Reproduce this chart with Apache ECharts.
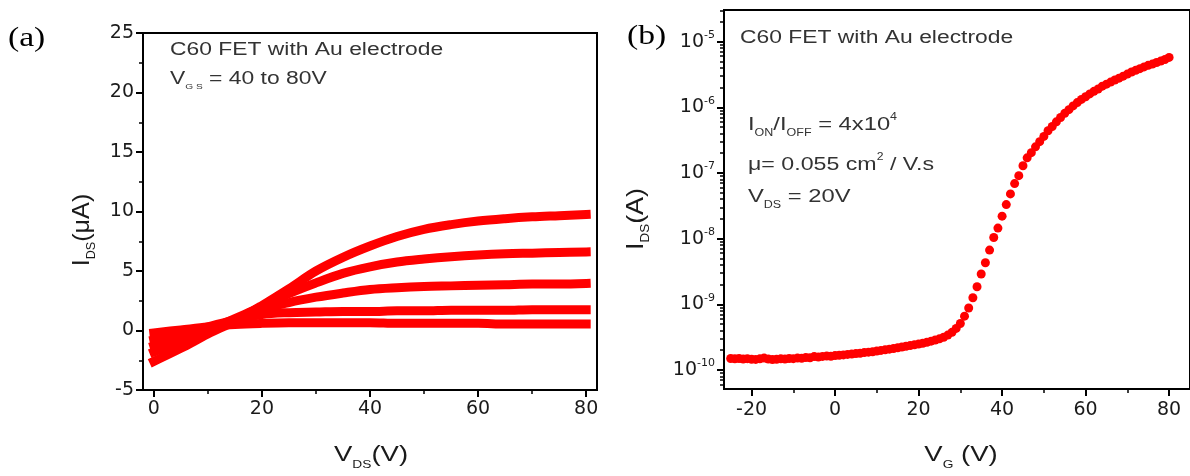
<!DOCTYPE html>
<html><head><meta charset="utf-8">
<script src="https://cdn.jsdelivr.net/npm/echarts@6/dist/echarts.min.js"></script>
<style>html,body{margin:0;padding:0;background:#fff}#c{width:1190px;height:476px}</style>
</head><body><div id="c"></div>
<script>
// ---- Panel (a): output curves, I_DS (uA) vs V_DS (V) ----
const vds = [0,5,10,15,20,25,30,35,40,45,50,55,60,65,70,75,80];
const ids_vg40 = [-0.2,0.05,0.3,0.5,0.6,0.65,0.65,0.65,0.65,0.6,0.6,0.6,0.6,0.55,0.55,0.55,0.55];
const ids_vg50 = [-0.8,-0.3,0.3,0.9,1.35,1.5,1.55,1.6,1.6,1.65,1.65,1.7,1.7,1.7,1.75,1.75,1.75];
const ids_vg60 = [-1.3,-0.6,0.1,0.8,1.75,2.35,2.8,3.15,3.45,3.6,3.7,3.75,3.8,3.85,3.9,3.9,3.95];
const ids_vg70 = [-1.8,-0.9,0.0,1.0,2.0,3.1,4.0,4.8,5.35,5.75,6.0,6.2,6.35,6.45,6.5,6.55,6.6];
const ids_vg80 = [-2.6,-1.5,-0.3,0.8,2.1,3.5,5.0,6.15,7.1,7.9,8.5,8.9,9.2,9.4,9.55,9.65,9.75];
const xTicksA = [0,20,40,60,80];
const xMinorA = [10,30,50,70];

// ---- Panel (b): transfer curve, I_DS (A) vs V_G (V) ----
const vg = [-25,-24,-23,-22,-21,-20,-19,-18,-17,-16,-15,-14,-13,-12,-11,-10,-9,-8,-7,-6,-5,-4,-3,-2,-1,
  0,1,2,3,4,5,6,7,8,9,10,11,12,13,14,15,16,17,18,19,20,21,22,23,24,25,26,27,28,29,30,
  31,32,33,34,35,36,37,38,39,40,41,42,43,44,45,46,47,48,49,50,51,52,53,54,55,56,57,58,59,60,
  61,62,63,64,65,66,67,68,69,70,71,72,73,74,75,76,77,78,79,80];
const idsT = [1.50e-10,1.48e-10,1.50e-10,1.47e-10,1.49e-10,1.46e-10,1.45e-10,1.48e-10,1.52e-10,1.47e-10,
  1.44e-10,1.46e-10,1.48e-10,1.47e-10,1.50e-10,1.49e-10,1.52e-10,1.51e-10,1.55e-10,1.54e-10,
  1.60e-10,1.58e-10,1.61e-10,1.63e-10,1.62e-10,
  1.66e-10,1.68e-10,1.70e-10,1.73e-10,1.75e-10,1.78e-10,1.80e-10,1.84e-10,1.87e-10,1.90e-10,
  1.95e-10,1.99e-10,2.03e-10,2.08e-10,2.13e-10,2.18e-10,2.24e-10,2.30e-10,2.36e-10,2.42e-10,
  2.48e-10,2.56e-10,2.65e-10,2.75e-10,2.86e-10,2.98e-10,3.15e-10,3.40e-10,3.75e-10,4.30e-10,5.10e-10,
  6.6e-10,8.8e-10,1.26e-9,1.85e-9,2.9e-9,4.3e-9,6.7e-9,1.04e-8,1.45e-8,2.2e-8,
  3.3e-8,4.8e-8,6.9e-8,9.1e-8,1.29e-7,1.70e-7,2.04e-7,2.5e-7,3.0e-7,3.6e-7,
  4.4e-7,5.1e-7,6.0e-7,7.0e-7,8.1e-7,9.2e-7,1.05e-6,1.18e-6,1.32e-6,1.45e-6,
  1.6e-6,1.75e-6,1.9e-6,2.1e-6,2.25e-6,2.42e-6,2.6e-6,2.78e-6,2.98e-6,3.2e-6,
  3.45e-6,3.65e-6,3.88e-6,4.12e-6,4.35e-6,4.55e-6,4.8e-6,5.05e-6,5.35e-6,5.75e-6];
const xTicksB = [-20,0,20,40,60,80];
const xMinorB = [-10,10,30,50,70];
const yTicksB = [1e-10,1e-9,1e-8,1e-7,1e-6,1e-5];

// ---- styling ----
const FONT = 'Liberation Sans';
const TICKFONT = 'DejaVu Sans';
const RED = '#ff0000';
const INK = '#1a1a1a';
const ANN = '#333333';
const labelStyle = {fontSize: 19, fontFamily: TICKFONT, color: INK};

// minor tick positions of the log axis
const logMinor = [];
for (let e = -11; e <= -5; e++) for (let k = 2; k <= 9; k++) logMinor.push(k * Math.pow(10, e));

const axLine = {show: true, onZero: false, lineStyle: {color: '#000', width: 2}};
const noLine = {show: false, onZero: false};
const tickMajor = (vals) => ({show: true, inside: false, length: 7, customValues: vals, lineStyle: {color: '#000', width: 2}});
const tickMinor = (vals) => ({show: true, inside: false, length: 4, customValues: vals, lineStyle: {color: '#000', width: 1.5}});

const YMIN_B = 5.14e-11, YMAX_B = 3.03e-5;

// rich-text helper for graphic labels
function richText(x, y, text, size, color, opt) {
  opt = opt || {};
  const sub = opt.sub || Math.round(size * 0.5);
  const sup = opt.sup || Math.round(size * 0.55);
  const lh = Math.round(size * 1.35);
  return {
    type: 'text', x: x, y: y, rotation: opt.rotation || 0, scaleX: opt.scaleX || 1,
    style: {
      text: text, align: opt.align || 'left', verticalAlign: opt.valign || 'top',
      fill: color, font: size + 'px "' + FONT + '"',
      rich: {
        n: {fontSize: size, lineHeight: lh, fontFamily: FONT, color: color},
        sub: {fontSize: sub, lineHeight: sub, verticalAlign: 'bottom', fontFamily: FONT, color: color},
        sup: {fontSize: sup, lineHeight: sup, verticalAlign: 'top', fontFamily: FONT, color: color}
      }
    }
  };
}

const option = {
  animation: false,
  backgroundColor: '#fff',
  grid: [
    {left: 143, top: 33, width: 454, height: 357, show: true, borderColor: '#000', borderWidth: 2, backgroundColor: 'transparent'},
    {left: 724, top: 10, width: 472, height: 379, show: true, borderColor: '#000', borderWidth: 2, backgroundColor: 'transparent'}
  ],
  xAxis: [
    {gridIndex: 0, type: 'value', min: -2, max: 82, position: 'bottom',
     axisLine: axLine, axisTick: tickMajor(xTicksA),
     axisLabel: Object.assign({customValues: xTicksA, margin: 10}, labelStyle),
     splitLine: {show: false}},
    {gridIndex: 0, type: 'value', min: -2, max: 82, position: 'bottom',
     axisLine: noLine, axisTick: tickMinor(xMinorA), axisLabel: {show: false}, splitLine: {show: false}},
    {gridIndex: 1, type: 'value', min: -26.6, max: 85, position: 'bottom',
     axisLine: axLine, axisTick: tickMajor(xTicksB),
     axisLabel: Object.assign({customValues: xTicksB, margin: 12}, labelStyle),
     splitLine: {show: false}},
    {gridIndex: 1, type: 'value', min: -26.6, max: 85, position: 'bottom',
     axisLine: noLine, axisTick: tickMinor(xMinorB), axisLabel: {show: false}, splitLine: {show: false}}
  ],
  yAxis: [
    {gridIndex: 0, type: 'value', min: -5, max: 25, interval: 5, position: 'left',
     axisLine: axLine,
     axisTick: {show: true, inside: false, length: 7, lineStyle: {color: '#000', width: 2}},
     minorTick: {show: true, splitNumber: 2, length: 4, lineStyle: {color: '#000', width: 1.5}},
     axisLabel: Object.assign({margin: 9}, labelStyle),
     splitLine: {show: false}, minorSplitLine: {show: false}},
    {gridIndex: 1, type: 'log', logBase: 10, min: YMIN_B, max: YMAX_B, position: 'left',
     axisLine: axLine, axisTick: tickMajor(yTicksB),
     axisLabel: Object.assign({}, labelStyle, {
       customValues: yTicksB, margin: 9, lineHeight: 24,
       formatter: (v) => '10{sup|' + Math.round(Math.log10(v)) + '}',
       rich: {sup: {fontSize: 11, lineHeight: 11, verticalAlign: 'top', fontFamily: TICKFONT, color: INK}}
     }),
     splitLine: {show: false}},
    {gridIndex: 1, type: 'log', logBase: 10, min: YMIN_B, max: YMAX_B, position: 'left',
     axisLine: noLine, axisTick: tickMinor(logMinor), axisLabel: {show: false}, splitLine: {show: false}}
  ],
  series: [
    ...[ids_vg40, ids_vg50, ids_vg60, ids_vg70, ids_vg80].map((arr, i) => ({
      name: 'VGS' + (40 + 10 * i), type: 'line', xAxisIndex: 0, yAxisIndex: 0,
      data: vds.map((v, j) => [v, arr[j]]),
      showSymbol: false, smooth: 0.35, clip: true,
      lineStyle: {color: RED, width: 9, cap: 'square'}, itemStyle: {color: RED}
    })),
    {name: 'transfer', type: 'scatter', xAxisIndex: 2, yAxisIndex: 1,
     data: vg.map((v, j) => [v, idsT[j]]), symbol: 'circle', symbolSize: 9,
     itemStyle: {color: RED, opacity: 1}}
  ],
  graphic: [
    {type: 'text', x: 8, y: 25, scaleX: 1.2, style: {text: '(a)', font: '28px "Liberation Serif"', fill: '#000', verticalAlign: 'top'}},
    {type: 'text', x: 627, y: 23, scaleX: 1.2, style: {text: '(b)', font: '28px "Liberation Serif"', fill: '#000', verticalAlign: 'top'}},
    // panel (a) annotations
    richText(170, 38, '{n|C60 FET with Au electrode}', 18, ANN, {scaleX: 1.27}),
    richText(170, 67, '{n|V}{sub|G S}{n| = 40 to 80V}', 18, ANN, {scaleX: 1.27, sub: 8}),
    // panel (b) annotations
    richText(740, 26, '{n|C60 FET with Au electrode}', 18, ANN, {scaleX: 1.27}),
    richText(748, 112, '{n|I}{sub|ON}{n|/I}{sub|OFF}{n| = 4x10}{sup|4}', 19, ANN, {scaleX: 1.25}),
    richText(748, 152, '{n|μ= 0.055 cm}{sup|2}{n| / V.s}', 19, ANN, {scaleX: 1.22}),
    richText(748, 184, '{n|V}{sub|DS}{n| = 20V}', 19, ANN, {scaleX: 1.25}),
    // axis titles
    richText(371, 455, '{n|V}{sub|DS}{n|(V)}', 22, INK, {align: 'center', valign: 'middle', scaleX: 1.25, sub: 11}),
    richText(961, 455, '{n|V}{sub|G}{n| (V)}', 22, INK, {align: 'center', valign: 'middle', scaleX: 1.25, sub: 11}),
    richText(82, 230, '{n|I}{sub|DS}{n|(μA)}', 24, INK, {align: 'center', valign: 'middle', rotation: Math.PI / 2, scaleX: 1.05, sub: 12}),
    richText(636, 219, '{n|I}{sub|DS}{n|(A)}', 24, INK, {align: 'center', valign: 'middle', rotation: Math.PI / 2, scaleX: 1.12, sub: 12})
  ]
};
const chart = echarts.init(document.getElementById('c'), null, {renderer: 'canvas'});
chart.setOption(option);
</script>
</body></html>
